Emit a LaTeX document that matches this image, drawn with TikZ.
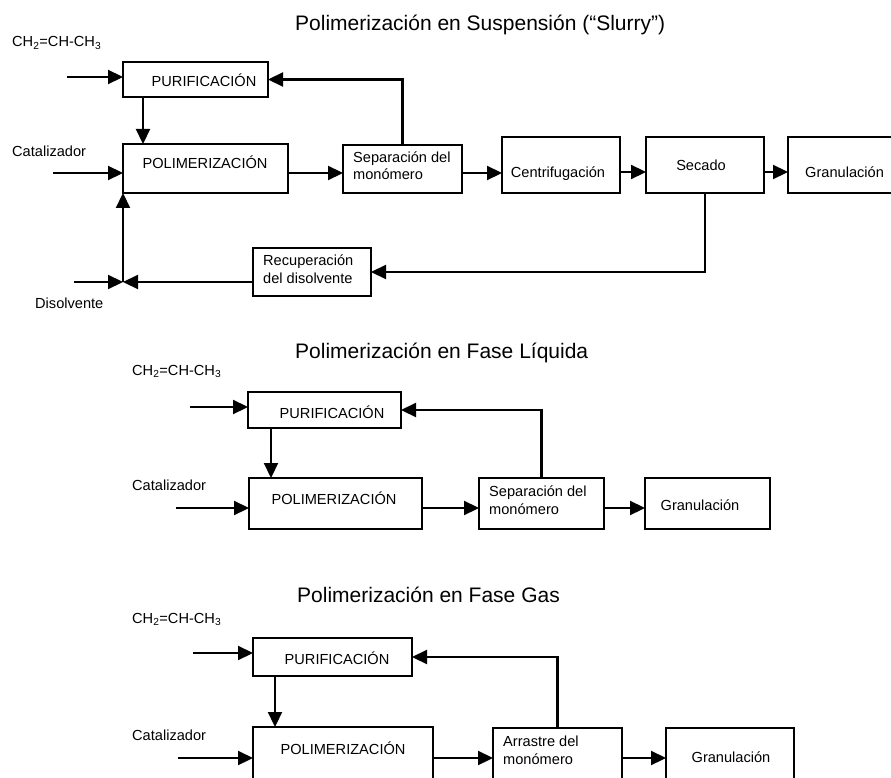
\documentclass[tikz,border=0pt]{standalone}
\usepackage{fontspec}
\setmainfont{Liberation Sans}
\usetikzlibrary{arrows.meta}
\tikzset{
  box/.style={draw, line width=2.2pt, inner sep=0pt, outer sep=0pt, anchor=north west},
  lbl/.style={font=\fontsize{14.6}{17.5}\selectfont, inner sep=0pt},
  ttl/.style={font=\fontsize{21}{25}\selectfont, inner sep=0pt},
  arr/.style={line width=2.2pt, -{Triangle[length=15pt,width=14pt]}},
}
\begin{document}
\begin{tikzpicture}[x=1pt,y=-1pt]
\useasboundingbox (0,0) rectangle (891,778);
\clip (0,0) rectangle (891,778);
% ---------------- Section 1 ----------------
\node[ttl, anchor=base west] (t1) at (295,31) {Polimerización en Suspensión (“Slurry”)};
\node[lbl, anchor=base west] (ch1) at (12,47) {CH\textsubscript{2}=CH-CH\textsubscript{3}};
\node[lbl, anchor=base west] (cat1) at (12,157) {Catalizador};
\node[lbl, anchor=base west] (dis1t) at (35,308) {Disolvente};

\node[box, minimum width=145pt, minimum height=35pt] (purif1) at (123,62) {};
\node[box, minimum width=165pt, minimum height=49pt] (polim1) at (123,144) {};
\node[box, minimum width=119pt, minimum height=48pt] (sep1) at (343,145) {};
\node[box, minimum width=118pt, minimum height=56pt] (centrif1) at (502,137) {};
\node[box, minimum width=118pt, minimum height=56pt] (secado1) at (646,137) {};
\node[box, minimum width=120pt, minimum height=56pt] (gran1) at (788,137) {};
\node[box, minimum width=118pt, minimum height=48pt] (recup1) at (253,248) {};

\node[lbl, anchor=base] (purif1t) at (204,87) {PURIFICACIÓN};
\node[lbl, anchor=base] (polim1t) at (205,169) {POLIMERIZACIÓN};
\node[lbl, anchor=base west, align=left] (sep1t) at (353,180) {Separación del\\monómero};
\node[lbl, anchor=base] (centrif1t) at (558,178) {Centrifugación};
\node[lbl, anchor=base] (secado1t) at (701,171) {Secado};
\node[lbl, anchor=base west] (gran1t) at (805,178) {Granulación};
\node[lbl, anchor=base west, align=left] (recup1t) at (263,283) {Recuperación\\del disolvente};

\coordinate (in1) at (67,77);
\draw[arr] (in1) -- (in1 -| purif1.west);
\draw[arr] (sep1.north) |- (purif1.east);
\coordinate (d1) at (143,0);
\draw[arr] (d1 |- purif1.south) -- (d1 |- polim1.north);
\coordinate (cin1) at (53,173);
\draw[arr] (cin1) -- (cin1 -| polim1.west);
\coordinate (h1) at (0,173);
\draw[arr] (h1 -| polim1.east) -- (h1 -| sep1.west);
\draw[arr] (h1 -| sep1.east) -- (h1 -| centrif1.west);
\coordinate (h1b) at (0,172);
\draw[arr] (h1b -| centrif1.east) -- (h1b -| secado1.west);
\draw[arr] (h1b -| secado1.east) -- (h1b -| gran1.west);
\draw[arr] (secado1.south) |- (recup1.east);
\coordinate (j1) at (123,282);
\coordinate (dis1) at (74,282);
\draw[arr] (j1 -| recup1.west) -- (j1);
\draw[arr] (dis1) -- (j1);
\draw[arr] (j1) -- (polim1.south west);

% ---------------- Section 2 ----------------
\node[ttl, anchor=base west] (t2) at (295,358) {Polimerización en Fase Líquida};
\node[lbl, anchor=base west] (ch2) at (132,375) {CH\textsubscript{2}=CH-CH\textsubscript{3}};
\node[lbl, anchor=base west] (cat2) at (132,490) {Catalizador};

\node[box, minimum width=153pt, minimum height=36pt] (purif2) at (248,392) {};
\node[box, minimum width=173pt, minimum height=51pt] (polim2) at (249,478) {};
\node[box, minimum width=125pt, minimum height=51pt] (sep2) at (479,478) {};
\node[box, minimum width=125pt, minimum height=51pt] (gran2) at (645,478) {};

\node[lbl, anchor=base] (purif2t) at (332,418) {PURIFICACIÓN};
\node[lbl, anchor=base] (polim2t) at (334,504) {POLIMERIZACIÓN};
\node[lbl, anchor=base west, align=left] (sep2t) at (489,514) {Separación del\\monómero};
\node[lbl, anchor=base] (gran2t) at (700,510) {Granulación};

\coordinate (in2) at (190,407);
\draw[arr] (in2) -- (in2 -| purif2.west);
\draw[arr] (sep2.north) |- (purif2.east);
\coordinate (d2) at (271,0);
\draw[arr] (d2 |- purif2.south) -- (d2 |- polim2.north);
\coordinate (cin2) at (176,508);
\draw[arr] (cin2) -- (cin2 -| polim2.west);
\coordinate (h2) at (0,508);
\draw[arr] (h2 -| polim2.east) -- (h2 -| sep2.west);
\draw[arr] (h2 -| sep2.east) -- (h2 -| gran2.west);

% ---------------- Section 3 ----------------
\node[ttl, anchor=base west] (t3) at (297,602) {Polimerización en Fase Gas};
\node[lbl, anchor=base west] (ch3) at (132,623) {CH\textsubscript{2}=CH-CH\textsubscript{3}};
\node[lbl, anchor=base west] (cat3) at (132,740) {Catalizador};

\node[box, minimum width=159pt, minimum height=38pt] (purif3) at (253,638) {};
\node[box, minimum width=180pt, minimum height=70pt] (polim3) at (253,727) {};
\node[box, minimum width=129pt, minimum height=70pt] (arr3) at (493,728) {};
\node[box, minimum width=128pt, minimum height=70pt] (gran3) at (666,728) {};

\node[lbl, anchor=base] (purif3t) at (337,664) {PURIFICACIÓN};
\node[lbl, anchor=base] (polim3t) at (343,754) {POLIMERIZACIÓN};
\node[lbl, anchor=base west, align=left] (arr3t) at (503,764) {Arrastre del\\monómero};
\node[lbl, anchor=base] (gran3t) at (731,762) {Granulación};

\coordinate (in3) at (193,653);
\draw[arr] (in3) -- (in3 -| purif3.west);
\draw[arr] (arr3.north) |- (purif3.east);
\coordinate (d3) at (275,0);
\draw[arr] (d3 |- purif3.south) -- (d3 |- polim3.north);
\coordinate (cin3) at (178,758);
\draw[arr] (cin3) -- (cin3 -| polim3.west);
\coordinate (h3) at (0,758);
\draw[arr] (h3 -| polim3.east) -- (h3 -| arr3.west);
\draw[arr] (h3 -| arr3.east) -- (h3 -| gran3.west);
\end{tikzpicture}
\end{document}
